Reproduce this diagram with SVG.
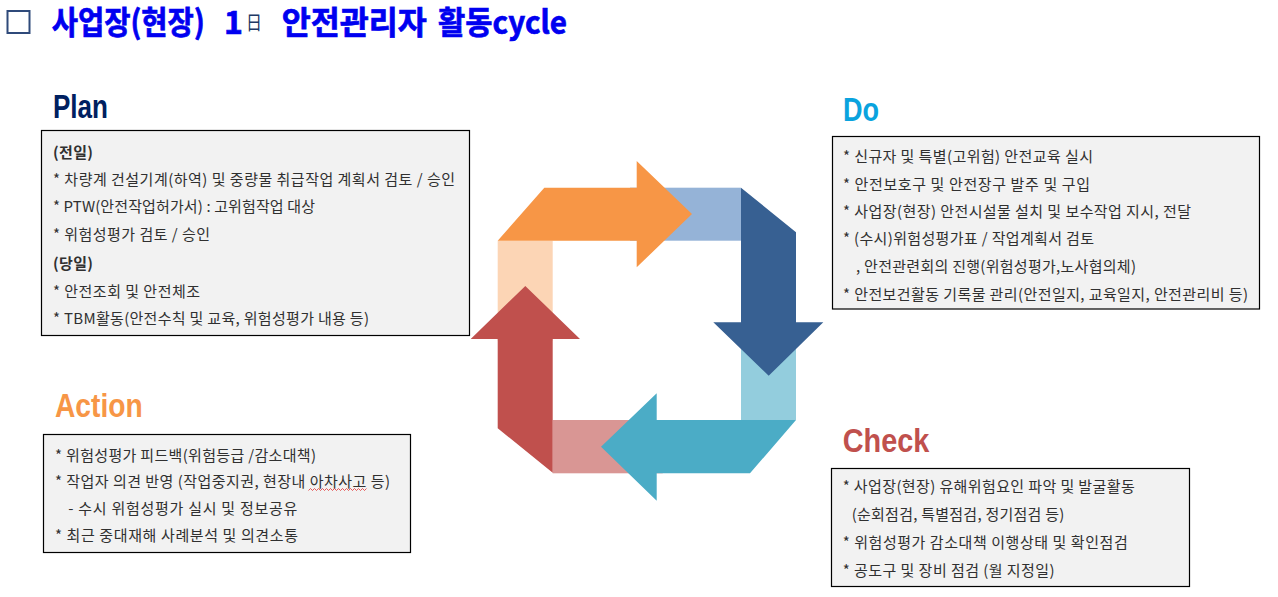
<svg xmlns="http://www.w3.org/2000/svg" width="1278" height="597" viewBox="0 0 1278 597">
<style>
.ttl{font-family:"Noto Sans CJK KR","Liberation Sans",sans-serif;font-weight:700;fill:#0000F0;stroke:#0000F0;stroke-width:0.7;font-size:32px}
.head{font-family:"Liberation Sans",Arial,sans-serif;font-weight:700;font-size:33px}
.box{fill:#F2F2F2;stroke:#000;stroke-width:1.2}
.t{font-family:"Noto Sans CJK KR","Liberation Sans",sans-serif;font-size:15px;fill:#303030}
.b{font-weight:700}
</style>
<rect width="1278" height="597" fill="#fff"/>
<g id="title">
<rect x="7.5" y="11" width="22" height="22" fill="none" stroke="#2F4A7A" stroke-width="2"/>
<text class="ttl" x="51.7" y="34" textLength="153" lengthAdjust="spacingAndGlyphs">사업장(현장)</text>
<text class="ttl" x="224" y="34">1</text>
<text x="246" y="29.5" font-family="Noto Sans CJK KR,sans-serif" font-size="19" fill="#203864" textLength="16" lengthAdjust="spacingAndGlyphs">日</text>
<text class="ttl" x="281.7" y="34" textLength="145" lengthAdjust="spacingAndGlyphs">안전관리자</text>
<text class="ttl" x="438" y="34" textLength="129" lengthAdjust="spacingAndGlyphs">활동cycle</text>
</g>
<g id="connectors">
<rect x="630" y="187.7" width="111" height="53" fill="#95B3D7"/>
<rect x="741" y="320" width="55" height="100" fill="#93CDDD"/>
<rect x="552.7" y="420" width="110" height="53.3" fill="#D99694"/>
<rect x="497.7" y="240.7" width="55" height="100" fill="#FCD5B5"/>
<polygon points="497.7,240.7 544.3,187.7 636.7,187.7 636.7,161 692,214 636.7,267.3 636.7,240.7" fill="#F79646"/>
<polygon points="741,187.7 796,232.3 796,322.3 823.3,322.3 768.7,375.7 713.3,322.3 741,322.3" fill="#376092"/>
<polygon points="796,420 750,473.3 656.7,473.3 656.7,500.7 601,446.7 656.7,393.3 656.7,420" fill="#4BACC6"/>
<polygon points="552.7,472.7 497.7,428.3 497.7,339 470.7,339 525.3,286 580,339 552.7,339" fill="#C0504D"/>
</g>
<g id="plan">
<text class="head" x="53" y="118" fill="#002060" textLength="55" lengthAdjust="spacingAndGlyphs">Plan</text>
<rect class="box" x="41.5" y="130.5" width="428" height="205"/>
<text class="t b" x="53" y="158" textLength="40" lengthAdjust="spacing">(전일)</text>
<text class="t" x="53" y="185" textLength="402" lengthAdjust="spacing">* 차량계 건설기계(하역) 및 중량물 취급작업 계획서 검토 / 승인</text>
<text class="t" x="53" y="212.3" textLength="262" lengthAdjust="spacing">* PTW(안전작업허가서) : 고위험작업 대상</text>
<text class="t" x="53" y="239.6" textLength="157" lengthAdjust="spacing">* 위험성평가 검토 / 승인</text>
<text class="t b" x="53" y="269" textLength="40" lengthAdjust="spacing">(당일)</text>
<text class="t" x="53" y="296.6" textLength="147" lengthAdjust="spacing">* 안전조회 및 안전체조</text>
<text class="t" x="53" y="324" textLength="316" lengthAdjust="spacing">* TBM활동(안전수칙 및 교육, 위험성평가 내용 등)</text>
</g>
<g id="do">
<text class="head" x="843" y="121" fill="#0AA3DE" textLength="36" lengthAdjust="spacingAndGlyphs">Do</text>
<rect class="box" x="832.5" y="136.5" width="427" height="172.5"/>
<text class="t" x="843" y="161.5" textLength="250" lengthAdjust="spacing">* 신규자 및 특별(고위험) 안전교육 실시</text>
<text class="t" x="843" y="189.5" textLength="247" lengthAdjust="spacing">* 안전보호구 및 안전장구 발주 및 구입</text>
<text class="t" x="843" y="217.2" textLength="348" lengthAdjust="spacing">* 사업장(현장) 안전시설물 설치 및 보수작업 지시, 전달</text>
<text class="t" x="843" y="243.8" textLength="251" lengthAdjust="spacing">* (수시)위험성평가표 / 작업계획서 검토</text>
<text class="t" x="856" y="272.2" textLength="280" lengthAdjust="spacing">, 안전관련회의 진행(위험성평가,노사협의체)</text>
<text class="t" x="843" y="299.5" textLength="405" lengthAdjust="spacing">* 안전보건활동 기록물 관리(안전일지, 교육일지, 안전관리비 등)</text>
</g>
<g id="action">
<text class="head" x="55" y="416.7" fill="#F79646" textLength="87.7" lengthAdjust="spacingAndGlyphs">Action</text>
<rect class="box" x="43.5" y="434.5" width="367" height="118"/>
<text class="t" x="55" y="460.5" textLength="261" lengthAdjust="spacing">* 위험성평가 피드백(위험등급 /감소대책)</text>
<text class="t" x="55" y="487.2" textLength="335" lengthAdjust="spacing">* 작업자 의견 반영 (작업중지권, 현장내 아차사고 등)</text>
<path d="M308.5,490.5 l2,-2 l2,2 l2,-2 l2,2 l2,-2 l2,2 l2,-2 l2,2 l2,-2 l2,2 l2,-2 l2,2 l2,-2 l2,2 l2,-2 l2,2 l2,-2 l2,2 l2,-2 l2,2 l2,-2 l2,2 l2,-2 l2,2 l2,-2 l2,2 l2,-2 l2,2 l2,-2" fill="none" stroke="#E03030" stroke-width="0.8"/>
<text class="t" x="68.3" y="513.8" textLength="229" lengthAdjust="spacing">- 수시 위험성평가 실시 및 정보공유</text>
<text class="t" x="55" y="540.5" textLength="243" lengthAdjust="spacing">* 최근 중대재해 사례분석 및 의견소통</text>
</g>
<g id="check">
<text class="head" x="842.7" y="452.3" fill="#C0504D" textLength="86.7" lengthAdjust="spacingAndGlyphs">Check</text>
<rect class="box" x="831.5" y="468.5" width="358" height="118"/>
<text class="t" x="842.7" y="491.5" textLength="292" lengthAdjust="spacing">* 사업장(현장) 유해위험요인 파악 및 발굴활동</text>
<text class="t" x="851.7" y="519.8" textLength="212.6" lengthAdjust="spacing">(순회점검, 특별점검, 정기점검 등)</text>
<text class="t" x="842.7" y="548.2" textLength="285" lengthAdjust="spacing">* 위험성평가 감소대책 이행상태 및 확인점검</text>
<text class="t" x="842.7" y="575.5" textLength="212" lengthAdjust="spacing">* 공도구 및 장비 점검 (월 지정일)</text>
</g>
</svg>
